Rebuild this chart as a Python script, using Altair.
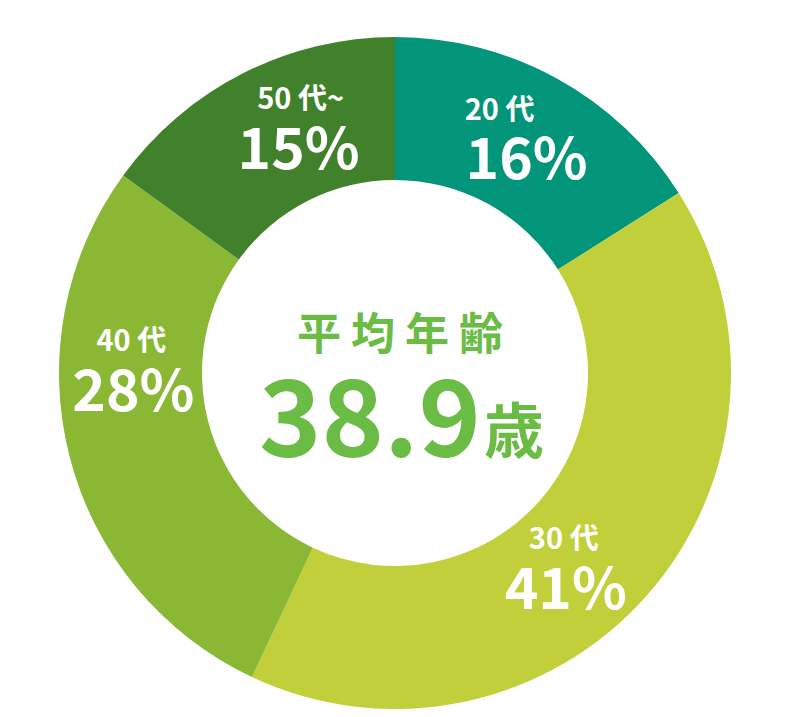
import altair as alt
import pandas as pd

# ---- data ----
categories = ["20代", "30代", "40代", "50代~"]
shares = [16, 41, 28, 15]
small_labels = ["20 代", "30 代", "40 代", "50 代~"]
big_labels = ["16%", "41%", "28%", "15%"]
center_title = "平 均 年 齢"
center_value = "38.9"
center_unit = "歳"

# ---- style ----
colors = ["#03957A", "#C1D03A", "#8AB834", "#42812C"]
CENTER_GREEN = "#6BBC45"
FONT = "Noto Sans CJK JP"
CX, CY = 387, 365
R_OUT, R_IN, R_LABEL = 336, 193, 265
SMALL_NUDGE = {"20代": (-23, -30), "30代": (-30, -8), "40代": (-7, -97), "50代~": (26, -37)}
BIG_NUDGE = {"20代": (4, 21), "30代": (-28, 44), "40代": (-5, -45), "50代~": (24, 15)}

df = pd.DataFrame({
    "cat": categories,
    "share": shares,
    "idx": list(range(len(categories))),
    "small": small_labels,
    "big": big_labels,
    "sdx": [SMALL_NUDGE[c][0] for c in categories],
    "sdy": [SMALL_NUDGE[c][1] for c in categories],
    "bdx": [BIG_NUDGE[c][0] for c in categories],
    "bdy": [BIG_NUDGE[c][1] for c in categories],
})

base = alt.Chart(df).encode(
    theta=alt.Theta("share:Q", stack=True),
    order=alt.Order("idx:Q"),
    x=alt.value(CX),
    y=alt.value(CY),
)

arcs = base.mark_arc(innerRadius=R_IN, outerRadius=R_OUT).encode(
    color=alt.Color("cat:N", scale=alt.Scale(domain=categories, range=colors), legend=None)
)

small_txt = base.mark_text(
    radius=R_LABEL, font=FONT, fontWeight="bold", fontSize=29, color="white",
    align="center", baseline="middle",
    dx=alt.expr("datum.sdx"), dy=alt.expr("datum.sdy"),
).encode(text="small:N")

big_txt = base.mark_text(
    radius=R_LABEL, font=FONT, fontWeight="bold", fontSize=57, color="white",
    align="center", baseline="middle",
    dx=alt.expr("datum.bdx"), dy=alt.expr("datum.bdy"),
).encode(text="big:N")

cdf = pd.DataFrame({"t": [center_title], "v": [center_value], "u": [center_unit]})
cbase = alt.Chart(cdf).encode(x=alt.value(CX), y=alt.value(CY))
title_txt = cbase.mark_text(font=FONT, fontWeight="bold", fontSize=44, color=CENTER_GREEN,
                            align="center", baseline="middle", dx=5, dy=-36).encode(text="t:N")
value_txt = cbase.mark_text(font=FONT, fontWeight="bold", fontSize=106, color=CENTER_GREEN,
                            align="center", baseline="alphabetic", dx=-25, dy=84).encode(text="v:N")
unit_txt = cbase.mark_text(font=FONT, fontWeight="bold", fontSize=60, color=CENTER_GREEN,
                           align="center", baseline="alphabetic", dx=119, dy=80).encode(text="u:N")

chart = alt.layer(arcs, small_txt, big_txt, title_txt, value_txt, unit_txt).properties(
    width=773, height=701, padding=0
).configure_view(stroke=None)

chart.save("out.html", embed_options={"renderer": "svg", "actions": False})
